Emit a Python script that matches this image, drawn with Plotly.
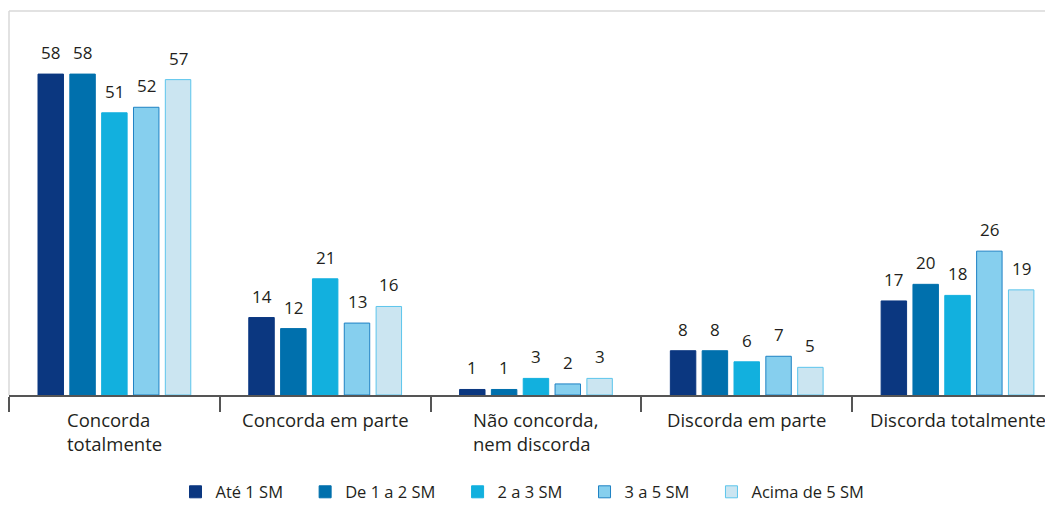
import plotly.graph_objects as go

categories = ["Concorda totalmente", "Concorda em parte", "Não concorda, nem discorda",
              "Discorda em parte", "Discorda totalmente"]
category_labels = ["Concorda<br>totalmente", "Concorda em parte", "Não concorda,<br>nem discorda",
                   "Discorda em parte", "Discorda totalmente"]
series_names = ["Até 1 SM", "De 1 a 2 SM", "2 a 3 SM", "3 a 5 SM", "Acima de 5 SM"]

ate_1 = [58, 14, 1, 8, 17]
de_1_a_2 = [58, 12, 1, 8, 20]
de_2_a_3 = [51, 21, 3, 6, 18]
de_3_a_5 = [52, 13, 2, 7, 26]
acima_5 = [57, 16, 3, 5, 19]
series_values = [ate_1, de_1_a_2, de_2_a_3, de_3_a_5, acima_5]

fills = ["#0b3780", "#0070ad", "#12b0de", "#86cfee", "#cbe5f1"]
borders = ["#0b3780", "#0070ad", "#12b0de", "#1f82c4", "#5cc5ec"]

bargap = 0.245
font = "Open Sans, sans-serif"
pad = "\u00a0" * 4  # extra room between legend entries

fig = go.Figure()
for name, vals, fc, lc in zip(series_names, series_values, fills, borders):
    fig.add_trace(go.Bar(x=categories, y=vals, name=name + pad,
                         marker=dict(color=fc, line=dict(color=lc, width=1))))

# value labels above bars, offset to each bar's slot in the group
slot = (1 - bargap) / len(series_names)
for j, vals in enumerate(series_values):
    for i, v in enumerate(vals):
        fig.add_annotation(x=i + (j - 2) * slot, y=v, text=str(v), showarrow=False,
                           yanchor="bottom", yshift=8,
                           font=dict(family=font, size=17, color="#231f20"))

# category labels (block centred, lines left aligned)
for i, lab in enumerate(category_labels):
    fig.add_annotation(x=i, y=-0.025, yref="paper", text=lab, showarrow=False,
                       yanchor="top", align="left",
                       font=dict(family=font, size=18.5, color="#231f20"))

# light frame on top and left of plot area
fig.add_shape(type="line", xref="paper", yref="paper", x0=0, x1=1, y0=1, y1=1,
              line=dict(color="#d9d9d9", width=1.5))
fig.add_shape(type="line", xref="paper", yref="paper", x0=0, x1=0, y0=0, y1=1,
              line=dict(color="#d9d9d9", width=1.5))

fig.update_layout(
    width=1045, height=497,
    margin=dict(l=1, r=0, t=3, b=110),
    barmode="group", bargap=bargap, bargroupgap=0.2,
    plot_bgcolor="white", paper_bgcolor="white",
    font=dict(family=font, size=16, color="#231f20"),
    legend=dict(orientation="h", x=0.5, xanchor="center", yref="container",
                y=0.026, yanchor="middle", font=dict(size=16.5), traceorder="normal"),
)
fig.update_xaxes(type="category", range=[-0.5, 4.453], tickson="boundaries",
                 ticks="outside", ticklen=15, tickcolor="#555555", tickwidth=1.5,
                 showticklabels=False, showline=True, linecolor="#555555", linewidth=1.5,
                 showgrid=False)
fig.update_yaxes(range=[0, 69.4], visible=False)

fig.write_html("out.html")
